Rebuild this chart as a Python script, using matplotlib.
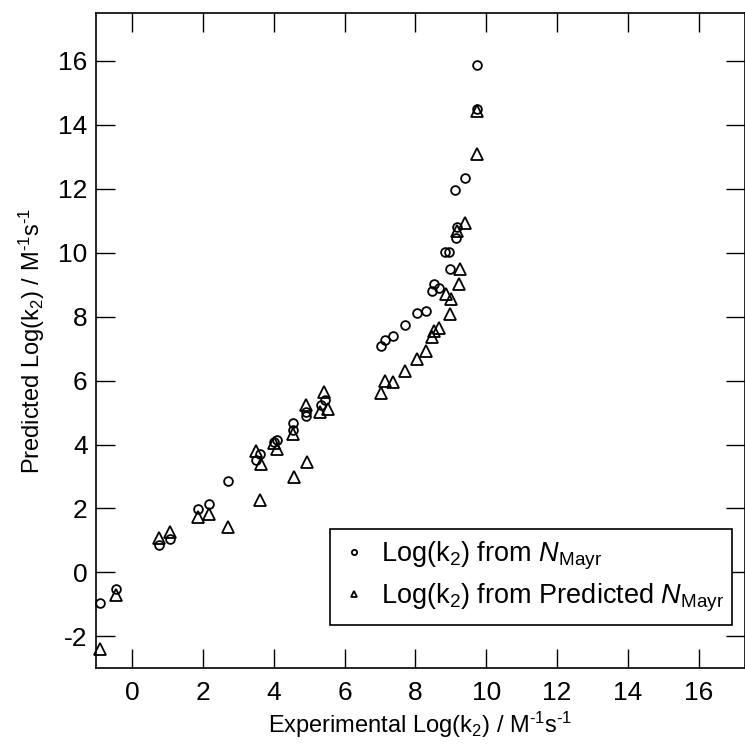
import matplotlib
matplotlib.use("Agg")
import matplotlib.pyplot as plt

plt.rcParams['font.family'] = ['Liberation Sans', 'DejaVu Sans']
plt.rcParams['mathtext.fontset'] = 'custom'
plt.rcParams['mathtext.rm'] = 'Liberation Sans'
plt.rcParams['mathtext.it'] = 'Liberation Sans:italic'

# Log(k2) from N_Mayr (circles)
circ_x = [-0.90, -0.46, 0.77, 1.07, 1.87, 2.18, 2.70, 3.50, 3.62, 4.01, 4.09,
          4.54, 4.54, 4.92, 4.92, 5.33, 5.45, 7.03, 7.15, 7.38, 7.71, 8.06,
          8.30, 8.47, 8.53, 8.67, 8.84, 8.95, 8.98, 9.12, 9.17, 9.15, 9.41,
          9.74, 9.74]
circ_y = [-0.95, -0.53, 0.85, 1.03, 1.97, 2.15, 2.86, 3.53, 3.72, 4.08, 4.13,
          4.67, 4.47, 5.02, 4.88, 5.23, 5.39, 7.08, 7.26, 7.41, 7.73, 8.13,
          8.19, 8.80, 9.02, 8.91, 10.01, 10.01, 9.48, 11.96, 10.79, 10.45, 12.35,
          15.87, 14.50]

# Log(k2) from Predicted N_Mayr (triangles)
tri_x = [-0.90, -0.46, 0.77, 1.07, 1.87, 2.18, 2.70, 3.50, 3.64, 3.62, 4.01,
         4.09, 4.54, 4.56, 4.91, 4.93, 5.43, 5.31, 5.52, 7.03, 7.15, 7.38,
         7.71, 8.06, 8.30, 8.47, 8.53, 8.67, 8.87, 9.00, 8.98, 9.22, 9.25,
         9.17, 9.41, 9.74, 9.74]
tri_y = [-2.38, -0.72, 1.07, 1.26, 1.73, 1.84, 1.42, 3.80, 3.40, 2.28, 4.05,
         3.87, 4.34, 2.98, 5.23, 3.45, 5.65, 5.02, 5.12, 5.62, 6.00, 5.97,
         6.29, 6.69, 6.93, 7.37, 7.55, 7.65, 8.72, 8.54, 8.08, 9.02, 9.48,
         10.69, 10.92, 14.43, 13.08]

x_ticks = [0, 2, 4, 6, 8, 10, 12, 14, 16]
y_ticks = [-2, 0, 2, 4, 6, 8, 10, 12, 14, 16]

fig = plt.figure(figsize=(7.45, 7.44), dpi=100)
ax = fig.add_axes([96/745, 76/744, 649/745, 655/744])

ax.plot(circ_x, circ_y, linestyle='none', marker='o', markersize=6.3,
        markerfacecolor='none', markeredgecolor='black', markeredgewidth=1.3,
        label=r'Log(k$_2$) from $N_{\mathrm{Mayr}}$', clip_on=False)
ax.plot(tri_x, tri_y, linestyle='none', marker='^', markersize=8.3,
        markerfacecolor='none', markeredgecolor='black', markeredgewidth=1.3,
        label=r'Log(k$_2$) from Predicted $N_{\mathrm{Mayr}}$', clip_on=False)

ax.set_xlim(-1.02, 17.31)
ax.set_ylim(-2.99, 17.5)
ax.set_xticks(x_ticks)
ax.set_yticks(y_ticks)
ax.set_xticklabels([str(v) for v in x_ticks])
ax.set_yticklabels([str(v) for v in y_ticks])

ax.tick_params(direction='in', length=13.5, width=1.0, top=True, right=True,
               labelsize=19)
ax.tick_params(axis='x', pad=9)
ax.tick_params(axis='y', pad=6)
for s in ax.spines.values():
    s.set_linewidth(1.2)

unit = r' / M$^{\text{-}1}$s$^{\text{-}1}$'
ax.set_xlabel(r'Experimental Log(k$_2$)' + unit, fontsize=17, labelpad=4)
ax.set_ylabel(r'Predicted Log(k$_2$)' + unit, fontsize=17, labelpad=8)

leg = ax.legend(loc='lower left', bbox_to_anchor=(0.36, 0.066, 0.62, 0.149),
                mode='expand', fontsize=19.5, frameon=True, fancybox=False,
                edgecolor='black', framealpha=1, markerscale=0.6,
                handlelength=1.0, handletextpad=0.5, borderpad=0.4,
                labelspacing=0.35, borderaxespad=0)
leg.get_frame().set_linewidth(1.2)

fig.savefig('out.png', dpi=100)
